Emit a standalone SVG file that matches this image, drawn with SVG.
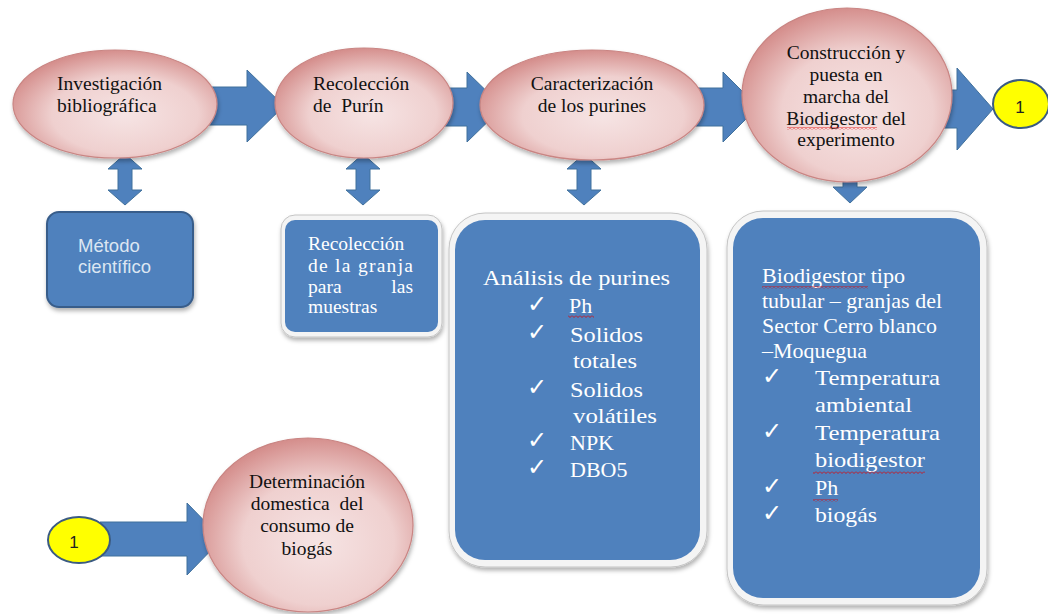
<svg xmlns="http://www.w3.org/2000/svg" width="1048" height="614" viewBox="0 0 1048 614">
<defs>
<radialGradient id="pink" cx="55%" cy="60%" r="60%">
<stop offset="0" stop-color="#f6e4e4"/>
<stop offset="0.6" stop-color="#efd0cf"/>
<stop offset="1" stop-color="#d58f8d"/>
</radialGradient>
<filter id="sh" x="-10%" y="-10%" width="120%" height="125%">
<feDropShadow dx="1" dy="3" stdDeviation="2" flood-color="#000" flood-opacity="0.3"/>
</filter>
<pattern id="wave" width="4" height="3" patternUnits="userSpaceOnUse">
<path d="M0 0.5 L2 2.5 L4 0.5" fill="none" stroke="#e00000" stroke-width="0.8"/>
</pattern>
<style>
.arr{fill:#4f81bd;stroke:#41719c;stroke-width:1}
.ell{fill:url(#pink);stroke:#c98583;stroke-width:1.2;filter:url(#sh)}
.et{font-family:"Liberation Serif",serif;font-size:19.5px;fill:#111}
.box{fill:#4f81bd}
.frame{fill:#f4f4f4;stroke:#c4c4c4;stroke-width:1;filter:url(#sh)}
.bt{font-family:"Liberation Serif",serif;font-size:22px;fill:#fff}
.bt2{font-family:"Liberation Serif",serif;font-size:19.5px;fill:#fff}
.ck{font-family:"DejaVu Sans",sans-serif;font-size:24px;fill:#fff}
.yel{fill:#ffff00;stroke:#3b5b82;stroke-width:2}
.num{font-family:"Liberation Sans",sans-serif;font-size:17px;fill:#222}
.wv{fill:url(#wave)}
</style>
</defs>
<rect width="1048" height="614" fill="#fff"/>

<g id="connectors">
<polygon class="arr" points="200,87 247,87 247,70 284,106 247,142 247,125 200,125"/>
<polygon class="arr" points="440,88 467,88 467,72 503,107 467,142 467,126 440,126"/>
<polygon class="arr" points="690,88 723,88 723,72 758,107 723,142 723,126 690,126"/>
<polygon class="arr" points="930,90 957,90 957,68 993,109 957,150 957,128 930,128"/>
<polygon class="arr" points="100,522 187,522 187,503 222,539 187,575 187,556 100,556"/>
<polygon class="arr" points="125,154 142,169 132,169 132,190 142,190 125,205 108,190 118,190 118,169 108,169"/>
<polygon class="arr" points="363,154 380,169 370,169 370,190 380,190 363,205 346,190 356,190 356,169 346,169"/>
<polygon class="arr" points="584,154 601,169 591,169 591,190 601,190 584,205 567,190 577,190 577,169 567,169"/>
<polygon class="arr" points="850,150 867,165 857,165 857,187 867,187 850,203 833,187 843,187 843,165 833,165"/>
</g>

<g id="n1">
<ellipse class="ell" cx="115" cy="104" rx="102" ry="54"/>
<text class="et" x="57" y="90">Investigación</text>
<text class="et" x="57" y="112">bibliográfica</text>
</g>
<g id="n2">
<ellipse class="ell" cx="364" cy="103" rx="89" ry="55"/>
<text class="et" x="313" y="90">Recolección</text>
<text class="et" x="313" y="112" xml:space="preserve">de  Purín</text>
</g>
<g id="n3">
<ellipse class="ell" cx="592" cy="105" rx="112" ry="55"/>
<text class="et" x="592" y="90" text-anchor="middle">Caracterización</text>
<text class="et" x="592" y="112" text-anchor="middle">de los purines</text>
</g>
<g id="n4">
<ellipse class="ell" cx="847" cy="95" rx="105" ry="87"/>
<text class="et" x="846" y="59" text-anchor="middle">Construcción y</text>
<text class="et" x="846" y="81" text-anchor="middle">puesta en</text>
<text class="et" x="846" y="103" text-anchor="middle">marcha del</text>
<text class="et" x="846" y="125" text-anchor="middle">Biodigestor del</text>
<text class="et" x="846" y="146" text-anchor="middle">experimento</text>
<rect class="wv" x="787" y="127" width="90" height="3"/>
</g>
<g id="c1a">
<ellipse class="yel" cx="1021" cy="104" rx="28" ry="24"/>
<text class="num" x="1020" y="113" text-anchor="middle">1</text>
</g>

<g id="b1">
<rect x="47" y="212" width="146" height="95" rx="12" fill="#4f81bd" stroke="#385d8a" stroke-width="2" filter="url(#sh)"/>
<text x="78" y="252" font-family="Liberation Sans, sans-serif" font-size="18.5" fill="#dce6f2">Método</text>
<text x="78" y="273" font-family="Liberation Sans, sans-serif" font-size="18.5" fill="#dce6f2">científico</text>
</g>
<g id="b2">
<rect class="frame" x="281" y="215" width="161" height="122" rx="14"/>
<rect class="box" x="285" y="220" width="153" height="112" rx="10"/>
<text class="bt2" x="308" y="250">Recolección</text>
<text class="bt2" x="308" y="272" textLength="105" lengthAdjust="spacing">de la granja</text>
<text class="bt2" x="308" y="293">para</text>
<text class="bt2" x="413" y="293" text-anchor="end">las</text>
<text class="bt2" x="308" y="313">muestras</text>
</g>
<g id="b3">
<rect class="frame" x="449" y="213" width="258" height="354" rx="36"/>
<rect class="box" x="455" y="220" width="245" height="340" rx="30"/>
<text class="bt" x="483" y="285" textLength="187" lengthAdjust="spacingAndGlyphs">Análisis de purines</text>
<text class="ck" x="527" y="312">✓</text>
<text class="bt" x="569" y="313">Ph</text>
<rect class="wv" x="568" y="315" width="26" height="3"/>
<text class="ck" x="527" y="340">✓</text>
<text class="bt" x="570" y="342" textLength="73" lengthAdjust="spacingAndGlyphs">Solidos</text>
<text class="bt" x="573" y="368" textLength="64" lengthAdjust="spacingAndGlyphs">totales</text>
<text class="ck" x="527" y="395">✓</text>
<text class="bt" x="570" y="397" textLength="73" lengthAdjust="spacingAndGlyphs">Solidos</text>
<text class="bt" x="573" y="423" textLength="84" lengthAdjust="spacingAndGlyphs">volátiles</text>
<text class="ck" x="527" y="448">✓</text>
<text class="bt" x="570" y="450">NPK</text>
<text class="ck" x="527" y="475">✓</text>
<text class="bt" x="570" y="477">DBO5</text>
</g>
<g id="b4">
<rect class="frame" x="727" y="211" width="260" height="394" rx="36"/>
<rect class="box" x="733" y="218" width="247" height="380" rx="30"/>
<text class="bt" x="762" y="283" textLength="143" lengthAdjust="spacingAndGlyphs">Biodigestor tipo</text>
<rect class="wv" x="762" y="286" width="106" height="3"/>
<text class="bt" x="762" y="308" textLength="180" lengthAdjust="spacingAndGlyphs">tubular – granjas del</text>
<text class="bt" x="762" y="333" textLength="175" lengthAdjust="spacingAndGlyphs">Sector Cerro blanco</text>
<text class="bt" x="762" y="358" textLength="105" lengthAdjust="spacingAndGlyphs">–Moquegua</text>
<text class="ck" x="762" y="384">✓</text>
<text class="bt" x="815" y="385" textLength="125" lengthAdjust="spacingAndGlyphs">Temperatura</text>
<text class="bt" x="815" y="412" textLength="97" lengthAdjust="spacingAndGlyphs">ambiental</text>
<text class="ck" x="762" y="439">✓</text>
<text class="bt" x="815" y="440" textLength="125" lengthAdjust="spacingAndGlyphs">Temperatura</text>
<text class="bt" x="815" y="467" textLength="110" lengthAdjust="spacingAndGlyphs">biodigestor</text>
<rect class="wv" x="813" y="471" width="112" height="3"/>
<text class="ck" x="762" y="494">✓</text>
<text class="bt" x="815" y="495">Ph</text>
<rect class="wv" x="813" y="499" width="25" height="3"/>
<text class="ck" x="762" y="521">✓</text>
<text class="bt" x="815" y="522" textLength="62" lengthAdjust="spacingAndGlyphs">biogás</text>
</g>

<g id="c1b">
<ellipse class="yel" cx="79" cy="540" rx="31" ry="23"/>
<text class="num" x="74" y="548" text-anchor="middle">1</text>
</g>
<g id="n5">
<ellipse class="ell" cx="308" cy="525" rx="105" ry="87"/>
<text class="et" x="307" y="488" text-anchor="middle">Determinación</text>
<text class="et" x="307" y="510" text-anchor="middle" xml:space="preserve">domestica  del</text>
<text class="et" x="307" y="532" text-anchor="middle">consumo de</text>
<text class="et" x="307" y="555" text-anchor="middle">biogás</text>
</g>
</svg>
